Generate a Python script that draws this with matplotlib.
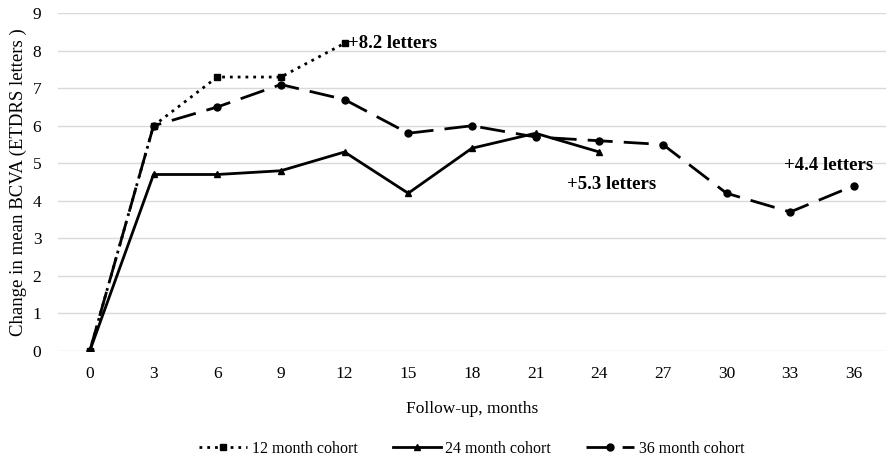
import numpy as np
import matplotlib.pyplot as plt

plt.rcParams['font.family'] = ['Liberation Serif', 'DejaVu Serif']

months = ['0', '3', '6', '9', '12', '15', '18', '21', '24', '27', '30', '33', '36']
cohort12 = [0, 6.0, 7.3, 7.3, 8.2]
cohort24 = [0, 4.7, 4.7, 4.8, 5.3, 4.2, 5.4, 5.8, 5.3]
cohort36 = [0, 6.0, 6.5, 7.1, 6.7, 5.8, 6.0, 5.7, 5.6, 5.5, 4.2, 3.7, 4.4]

fig = plt.figure(figsize=(8.9, 4.59), dpi=100)
ax = fig.add_axes([0.0652, 0.236, 0.930, 0.735])

x = np.arange(len(months))

ax.plot(x[:len(cohort12)], cohort12, color='black', lw=2, linestyle=(0, (1, 1.8)),
        marker='s', markersize=5, label='12 month cohort')
ax.plot(x[:len(cohort24)], cohort24, color='black', lw=2, linestyle='-',
        marker='^', markersize=5, label='24 month cohort')
ax.plot(x[:len(cohort36)], cohort36, color='black', lw=2, linestyle=(0, (9, 4)),
        marker='o', markersize=5, label='36 month cohort')

ax.text(4.05, 8.2, '+8.2 letters', fontsize=13.5, fontweight='bold', va='center', ha='left')
ax.text(8.2, 4.43, '+5.3 letters', fontsize=13.5, fontweight='bold', va='center', ha='center')
ax.text(11.6, 4.94, '+4.4 letters', fontsize=13.5, fontweight='bold', va='center', ha='center')

ax.set_xlim(-0.5, len(months) - 0.5)
ax.set_ylim(0, 9)
ax.set_xticks(x)
ax.set_xticklabels(months)
ax.set_yticks(range(10))
ax.tick_params(axis='x', length=0, labelsize=12.5, pad=11)
ax.tick_params(axis='y', length=0, labelsize=12.5, pad=12)
ax.grid(axis='y', color='#d9d9d9', lw=1)
ax.set_axisbelow(True)
for s in ax.spines.values():
    s.set_visible(False)

ax.set_xlabel('Follow-up, months', fontsize=12.5, labelpad=14)
ax.set_ylabel('Change in mean BCVA (ETDRS letters )', fontsize=13.5, labelpad=4)

ax.legend(loc='center', bbox_to_anchor=(0.5, -0.29), ncol=3, frameon=False,
          fontsize=11.5, handlelength=3.0, handletextpad=0.3, columnspacing=2.2)

fig.savefig('out.png', dpi=100)
